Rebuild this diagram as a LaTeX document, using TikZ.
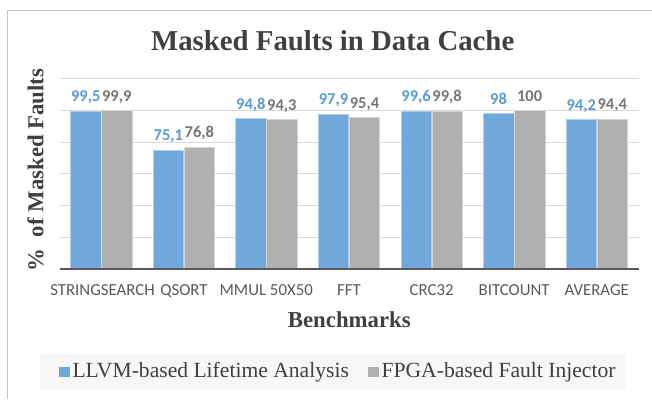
\documentclass[tikz,border=0pt]{standalone}
\usepackage{fontspec}
\setmainfont{Liberation Serif}
\newfontfamily\calibri{Carlito}
\usepackage{xcolor}
\usetikzlibrary{positioning}
\definecolor{barblue}{RGB}{112,168,220}
\definecolor{bargrey}{RGB}{176,176,176}
\definecolor{lblblue}{RGB}{91,155,213}
\definecolor{lblgrey}{RGB}{118,118,118}
\definecolor{txtdark}{RGB}{64,64,64}
\definecolor{txtmid}{RGB}{89,89,89}
\definecolor{gridgrey}{RGB}{217,217,217}
\definecolor{framegrey}{RGB}{196,196,196}
\definecolor{legfill}{RGB}{247,247,247}
\tikzstyle{frame} = [draw=framegrey, line width=1pt]
\tikzstyle{grid} = [draw=gridgrey, line width=1pt]
\tikzstyle{axisline} = [draw=txtmid, line width=2pt]
\tikzstyle{barb} = [fill=barblue, draw=barblue!55!white, line width=0.6pt]
\tikzstyle{barg} = [fill=bargrey, draw=bargrey!55!white, line width=0.6pt]
\tikzstyle{vlb} = [inner sep=0, anchor=base, yshift=9.4pt, text=lblblue, font=\calibri\bfseries\fontsize{16.5}{18}\selectfont]
\tikzstyle{vlg} = [inner sep=0, anchor=base, yshift=9.4pt, text=lblgrey, font=\calibri\bfseries\fontsize{16.5}{18}\selectfont]
\tikzstyle{cat} = [inner sep=0, anchor=base, yshift=-26.7pt, text=txtmid, font=\calibri\fontsize{16.8}{18}\selectfont]
\tikzstyle{ttl} = [inner sep=0, anchor=base, text=txtdark, font=\bfseries\fontsize{28.8}{32}\selectfont]
\tikzstyle{atl} = [inner sep=0, anchor=base, text=txtdark, font=\bfseries\fontsize{22.8}{26}\selectfont]
\tikzstyle{legbox} = [fill=legfill, inner sep=0, minimum width=586pt, minimum height=35pt]
\tikzstyle{keyb} = [fill=barblue, inner sep=0, minimum size=10.5pt]
\tikzstyle{keyg} = [fill=bargrey, inner sep=0, minimum size=10.5pt]
\tikzstyle{legtext} = [inner sep=0, text=txtdark, font=\fontsize{21.6}{24}\selectfont]

\begin{document}
\begin{tikzpicture}[x=1pt, y=-1pt]
\useasboundingbox (0,0) rectangle (652,399);
\draw [frame] (652,10) -- (7.7,10) -- (7.7,399);

\node [ttl] (title) at (332.7,50) {Masked Faults in Data Cache};
\node [atl, rotate=90] (ytitle) at (43.3,169.9) {\%\ \ of Masked Faults};
\node [atl] (xtitle) at (349.3,327.3) {Benchmarks};

\begin{scope}[shift={(0,269)}, y=1.585pt]
\draw [grid] (60,20) -- (638.5,20);
\draw [grid] (60,40) -- (638.5,40);
\draw [grid] (60,60) -- (638.5,60);
\draw [grid] (60,80) -- (638.5,80);
\draw [grid] (60,100) -- (638.5,100);
\draw [grid] (60,120) -- (638.5,120);

\draw [barb] (70.6,0) rectangle (101,99.5);
\draw [barg] (101.6,0) rectangle (132,99.9);
\node [vlb] (v1) at (85.8,99.5) {99,5};
\node [vlg] (w1) at (116.8,99.9) {99,9};
\node [cat] (c1) at (102.5,0) {STRINGSEARCH};

\draw [barb] (153.2,0) rectangle (183.6,75.1);
\draw [barg] (184.2,0) rectangle (214.6,76.8);
\node [vlb] (v2) at (168.4,75.1) {75,1};
\node [vlg] (w2) at (199.4,76.8) {76,8};
\node [cat] (c2) at (183.9,0) {QSORT};

\draw [barb] (235.7,0) rectangle (266.1,94.8);
\draw [barg] (266.7,0) rectangle (297.1,94.3);
\node [vlb] (v3) at (250.9,94.8) {94,8};
\node [vlg] (w3) at (281.9,94.3) {94,3};
\node [cat] (c3) at (266.2,0) {MMUL 50X50};

\draw [barb] (318.3,0) rectangle (348.7,97.9);
\draw [barg] (349.3,0) rectangle (379.7,95.4);
\node [vlb] (v4) at (333.5,97.9) {97,9};
\node [vlg] (w4) at (364.5,95.4) {95,4};
\node [cat] (c4) at (349,0) {FFT};

\draw [barb] (400.9,0) rectangle (431.3,99.6);
\draw [barg] (431.9,0) rectangle (462.3,99.8);
\node [vlb] (v5) at (416.1,99.6) {99,6};
\node [vlg] (w5) at (447.1,99.8) {99,8};
\node [cat] (c5) at (431.6,0) {CRC32};

\draw [barb] (483.4,0) rectangle (513.8,98);
\draw [barg] (514.4,0) rectangle (544.8,100);
\node [vlb] (v6) at (498.6,98) {98};
\node [vlg] (w6) at (529.6,100) {100};
\node [cat] (c6) at (514.1,0) {BITCOUNT};

\draw [barb] (566,0) rectangle (596.4,94.2);
\draw [barg] (597,0) rectangle (627.4,94.4);
\node [vlb] (v7) at (581.2,94.2) {94,2};
\node [vlg] (w7) at (612.2,94.4) {94,4};
\node [cat] (c7) at (596.7,0) {AVERAGE};

\draw [axisline] (60,0) -- (638.5,0);
\end{scope}

\node [legbox] (leg) at (333,371.5) {};
\node [keyb] (kb) at (64.5,372.2) {};
\node [legtext, right=2.4pt of kb] (lt1) {LLVM-based Lifetime Analysis};
\node [keyg, right=19pt of lt1] (kg) {};
\node [legtext, right=2.4pt of kg] (lt2) {FPGA-based Fault Injector};

\end{tikzpicture}
\end{document}
